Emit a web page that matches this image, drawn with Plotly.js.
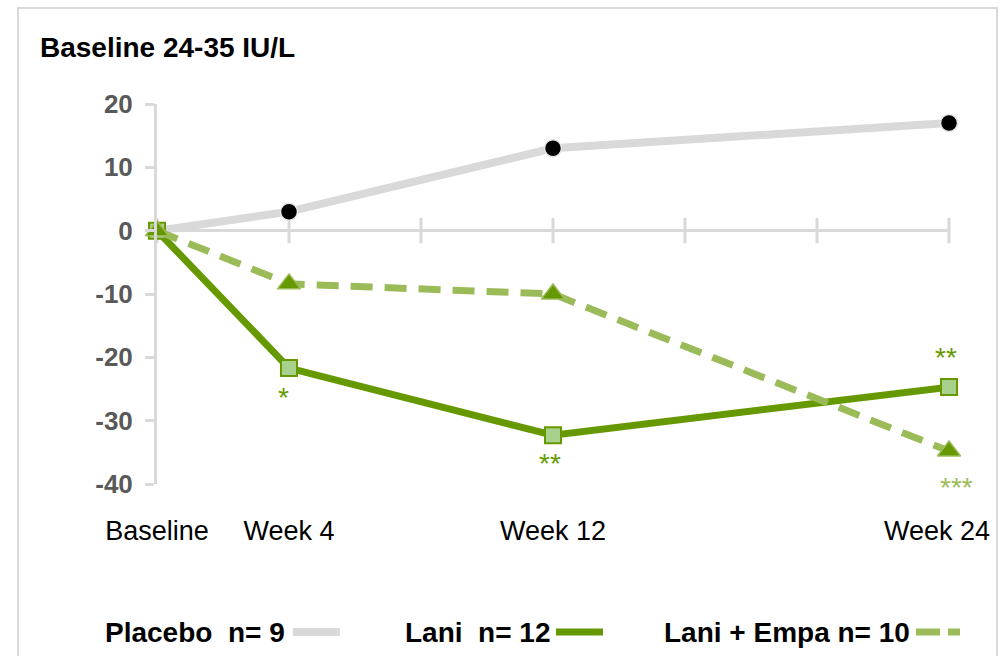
<!DOCTYPE html>
<html>
<head>
<meta charset="utf-8">
<script src="https://cdn.plot.ly/plotly-3.0.1.min.js"></script>
<style>html,body{margin:0;padding:0;background:#fff;}#chart{width:1008px;height:656px;}</style>
</head>
<body>
<div id="chart"></div>
<script>
// ---- data ----
const weeks = [0, 4, 12, 24];
const tickLabels = ["Baseline", "Week 4", "Week 12", "Week 24"];
const gridWeeks = [0, 4, 8, 12, 16, 20, 24];
const yTickVals = [-40, -30, -20, -10, 0, 10, 20];
const yTickText = ["-40", "-30", "-20", "-10", "0", "10", "20"];
const placebo = [0, 3, 13, 17];
const lani = [0, -21.7, -32.3, -24.7];
const laniEmpa = [0, -8.4, -10, -34.8];
const seriesNames = ["Placebo\u00a0\u00a0n= 9", "Lani\u00a0\u00a0n= 12", "Lani + Empa n= 10"];
const sigWeeks = [4, 12, 24, 24];
const sigValues = [-26.4, -36.8, -20.1, -40.5];
const sigText = ["*", "**", "**", "***"];
const sigSeries = [1, 1, 1, 2];

const GRAY = "#d9d9d9", DARK = "#669900", LIGHT = "#9bbb59", SQFILL = "#a9d18e";
const FONT = "Arial, 'Liberation Sans', sans-serif";

const traces = [
  {x: gridWeeks, y: gridWeeks.map(() => 0), mode: "markers", type: "scatter",
   marker: {symbol: "line-ns", size: 18, line: {color: GRAY, width: 3}},
   hoverinfo: "skip", showlegend: false, cliponaxis: false},
  {x: weeks, y: placebo, name: seriesNames[0], mode: "lines+markers", type: "scatter",
   line: {color: GRAY, width: 8},
   marker: {symbol: "circle", size: 17, color: "#000", line: {color: "#e8e8e8", width: 1.5}},
   cliponaxis: false},
  {x: weeks, y: lani, name: seriesNames[1], mode: "lines+markers", type: "scatter",
   line: {color: DARK, width: 7},
   marker: {symbol: "square", size: 16, color: SQFILL, line: {color: DARK, width: 2}},
   cliponaxis: false},
  {x: weeks, y: laniEmpa, name: seriesNames[2], mode: "lines+markers", type: "scatter",
   line: {color: LIGHT, width: 7, dash: "22px,12px"},
   marker: {symbol: "triangle-up", size: 20, color: DARK, line: {color: LIGHT, width: 1.5}},
   cliponaxis: false}
];

const W = 792, H = 380, L = 157, T = 104;
const px = v => (v - L) / W;
const py = v => (T + H - v) / H;

// significance marks (data coordinates; any below the axis floor are shifted in pixels)
const annotations = sigText.map((t, i) => {
  const yv = Math.max(sigValues[i], -39.9);
  return {
    x: sigWeeks[i], y: yv, xref: "x", yref: "y", text: t, showarrow: false,
    yshift: (yv - sigValues[i]) * (-H / 60),
    font: {family: FONT, size: 28, color: sigSeries[i] === 1 ? DARK : LIGHT},
    xshift: sigWeeks[i] === 4 ? -6 : (sigText[i] === "***" ? 7 : -3)
  };
});

// last category label is right-aligned inside the frame (as in the reference)
annotations.push({x: weeks[3], y: py(531), xref: "x", yref: "paper", xanchor: "right", yanchor: "middle",
  xshift: 43, text: tickLabels[3], showarrow: false, font: {family: FONT, size: 27, color: "#000"}});

// legend (text then swatch on the right)
const legY = py(632);
const legendTextRight = [287, 553, 912];
legendTextRight.forEach((r, i) => {
  annotations.push({x: px(r), y: legY, xref: "paper", yref: "paper", xanchor: "right", yanchor: "middle",
    text: "<b>" + seriesNames[i] + "</b>", showarrow: false, font: {family: FONT, size: 28, color: "#000"}});
});

const shapes = [
  {type: "rect", xref: "paper", yref: "paper", x0: px(18), x1: px(997), y0: py(700), y1: py(8),
   line: {color: GRAY, width: 2}, layer: "below"},
  {type: "line", xref: "paper", yref: "paper", x0: px(293), x1: px(340), y0: legY, y1: legY,
   line: {color: GRAY, width: 8}},
  {type: "line", xref: "paper", yref: "paper", x0: px(556), x1: px(603), y0: legY, y1: legY,
   line: {color: DARK, width: 7}},
  {type: "line", xref: "paper", yref: "paper", x0: px(916), x1: px(960), y0: legY, y1: legY,
   line: {color: LIGHT, width: 7, dash: "24px,8px"}}
];

const layout = {
  width: 1008, height: 656,
  margin: {l: L, r: 1008 - L - W, t: T, b: 656 - T - H, pad: 0},
  paper_bgcolor: "#fff", plot_bgcolor: "#fff",
  showlegend: false,
  title: {text: "<b>Baseline 24-35 IU/L</b>", x: 40 / 1008, xanchor: "left", xref: "container",
          y: 1 - 47 / 656, yanchor: "middle", yref: "container",
          font: {family: FONT, size: 28, color: "#000"}},
  xaxis: {range: [0, 24], tickvals: weeks.slice(0, 3), ticktext: tickLabels.slice(0, 3),
          showgrid: false, zeroline: false,
          showline: false, ticks: "", ticklabelstandoff: 28,
          tickfont: {family: FONT, size: 27, color: "#000"}, fixedrange: true},
  yaxis: {range: [-40, 20], tickvals: yTickVals, ticktext: yTickText, showgrid: false,
          zeroline: true, zerolinecolor: GRAY, zerolinewidth: 3,
          showline: true, linecolor: GRAY, linewidth: 3, ticks: "outside", ticklen: 9, tickwidth: 3,
          tickcolor: GRAY, ticklabelstandoff: 7,
          tickfont: {family: FONT, size: 26, color: "#595959", weight: "bold"}, fixedrange: true},
  annotations: annotations,
  shapes: shapes
};

Plotly.newPlot("chart", traces, layout, {displayModeBar: false, staticPlot: true});
</script>
</body>
</html>
